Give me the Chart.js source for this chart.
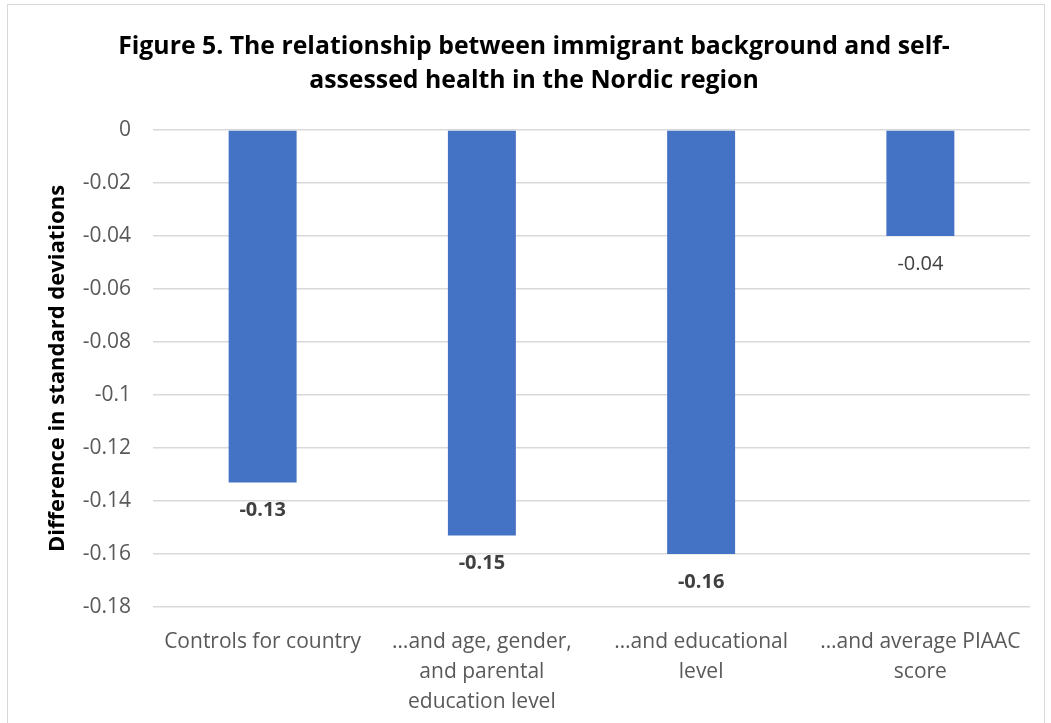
<!DOCTYPE html>
<html>
<head>
<meta charset="utf-8">
<script src="https://cdn.jsdelivr.net/npm/chart.js@4/dist/chart.umd.min.js"></script>
<style>
  html, body { margin: 0; padding: 0; background: #fff; }
  #wrap { position: relative; width: 1051px; height: 723px; }
  #frame { position: absolute; left: 7px; top: 4px; width: 1038px; height: 730px; border: 1px solid #d9d9d9; box-sizing: border-box; }
  canvas { position: absolute; left: 0; top: 0; }
</style>
</head>
<body>
<div id="wrap">
  <div id="frame"></div>
  <canvas id="chart" width="1051" height="723"></canvas>
</div>
<script>
const titleLines = [
  'Figure 5. The relationship between immigrant background and self-',
  'assessed health in the Nordic region'
];
const categories = [
  ['Controls for country'],
  ['\u2026and age, gender,', 'and parental', 'education level'],
  ['\u2026and educational', 'level'],
  ['\u2026and average PIAAC', 'score']
];
const values = [-0.133, -0.153, -0.160, -0.040];
const valueLabels = ['-0.13', '-0.15', '-0.16', '-0.04'];
const boldLabels = [true, true, true, false];
const yTicks = [0, -0.02, -0.04, -0.06, -0.08, -0.1, -0.12, -0.14, -0.16, -0.18];

const FONT = '"Open Sans", "Noto Sans", sans-serif';
const GREY = '#595959';

// title drawn by hand so it can sit centred over the whole frame like the original
const titlePlugin = {
  id: 'figTitle',
  afterDraw(chart) {
    const ctx = chart.ctx;
    ctx.save();
    ctx.font = 'bold 24.8px ' + FONT;
    ctx.fillStyle = '#000';
    ctx.textAlign = 'center';
    ctx.textBaseline = 'middle';
    titleLines.forEach((line, i) => ctx.fillText(line, 534, 47 + i * 34));
    ctx.restore();
  }
};

const valueLabelPlugin = {
  id: 'valueLabels',
  afterDatasetsDraw(chart) {
    const ctx = chart.ctx;
    const meta = chart.getDatasetMeta(0);
    ctx.save();
    ctx.textAlign = 'center';
    ctx.textBaseline = 'middle';
    meta.data.forEach((bar, i) => {
      ctx.font = (boldLabels[i] ? 'bold ' : '') + '20px ' + FONT;
      ctx.fillStyle = '#404040';
      ctx.fillText(valueLabels[i], bar.x, bar.y + 28);
    });
    ctx.restore();
  }
};

new Chart(document.getElementById('chart'), {
  type: 'bar',
  data: {
    labels: categories,
    datasets: [{
      data: values,
      backgroundColor: '#4472C4',
      barPercentage: 0.62,
      categoryPercentage: 0.5
    }]
  },
  options: {
    responsive: false,
    animation: false,
    layout: { padding: { left: 0, right: 21, top: 130, bottom: 0 } },
    plugins: {
      legend: { display: false },
      tooltip: { enabled: false },
      title: { display: false }
    },
    scales: {
      x: {
        grid: { display: false },
        border: { display: false },
        ticks: {
          color: GREY,
          font: { family: FONT, size: 21, lineHeight: 1.42 },
          padding: 12,
          maxRotation: 0,
          autoSkip: false
        },
        afterFit(scale) { scale.height = 116; }
      },
      y: {
        min: -0.18,
        max: 0,
        afterBuildTicks(scale) {
          scale.ticks = yTicks.map(v => ({ value: v }));
        },
        grid: { color: '#d9d9d9', lineWidth: 1.5, drawTicks: false },
        border: { display: false },
        ticks: {
          color: GREY,
          font: { family: FONT, size: 21 },
          padding: 22,
          callback: v => String(Number(v.toFixed(2)))
        },
        title: {
          display: true,
          text: 'Difference in standard deviations',
          color: '#000',
          font: { family: FONT, size: 22, weight: 'bold' },
          padding: { top: 45, bottom: 0 }
        },
        afterFit(scale) { scale.width = 153; }
      }
    }
  },
  plugins: [valueLabelPlugin, titlePlugin]
});
</script>
</body>
</html>
